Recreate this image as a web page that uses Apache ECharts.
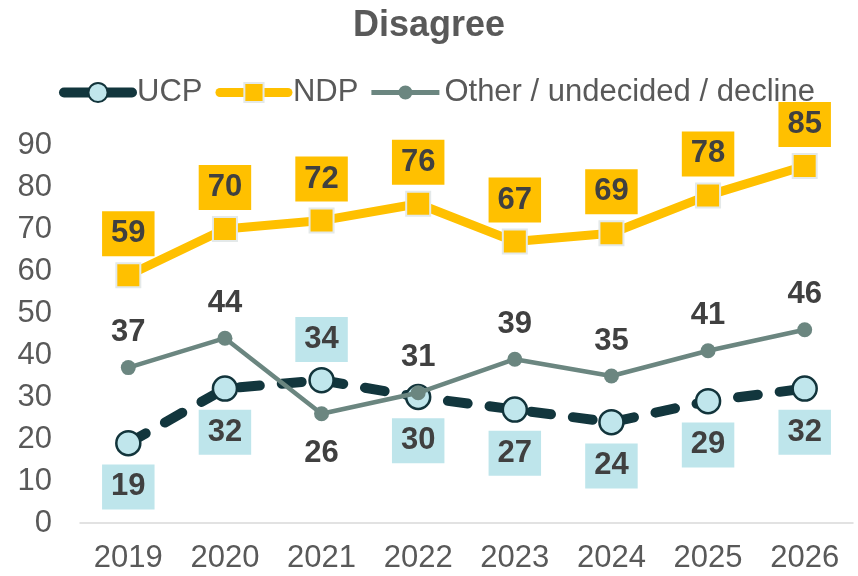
<!DOCTYPE html>
<html>
<head>
<meta charset="utf-8">
<script src="https://cdn.jsdelivr.net/npm/echarts@6/dist/echarts.min.js"></script>
<style>html,body{margin:0;padding:0;background:#fff}#c{width:858px;height:576px}</style>
</head>
<body>
<div id="c"></div>
<script>
const years = ['2019','2020','2021','2022','2023','2024','2025','2026'];
const ucp = [19, 32, 34, 30, 27, 24, 29, 32];
const ndp = [59, 70, 72, 76, 67, 69, 78, 85];
const other = [37, 44, 26, 31, 39, 35, 41, 46];
const yTicks = [0, 10, 20, 30, 40, 50, 60, 70, 80, 90];

const FONT = '"Liberation Sans", Arial, sans-serif';
const labelBase = {
  show: true, fontFamily: FONT, fontSize: 31, fontWeight: 'bold',
  color: '#404040', lineHeight: 31
};
// label placement per point (styling, not data)
const ucpAbove = new Set([2]);
const otherBelow = new Set([2]);

const otherIcon = 'path://M0,9.5 L68,9.5 L68,14.5 L0,14.5 Z M27,12 A7,7 0 1,1 41,12 A7,7 0 1,1 27,12 Z';

const chart = echarts.init(document.getElementById('c'), null, {renderer: 'canvas'});
chart.setOption({
  backgroundColor: '#fff',
  animation: false,
  title: {
    text: 'Disagree', left: 'center', top: 3,
    textStyle: {fontFamily: FONT, fontSize: 36, fontWeight: 'bold', color: '#595959'}
  },
  legend: {
    left: 54, top: 72, itemGap: 13, itemWidth: 68, itemHeight: 24,
    textStyle: {fontFamily: FONT, fontSize: 31, color: '#595959'},
    data: [
      {name: 'UCP', lineStyle: {type: 'solid', width: 10, cap: 'round'}},
      {name: 'NDP', lineStyle: {width: 9, cap: 'round'}},
      {name: 'Other / undecided / decline', icon: otherIcon}
    ]
  },
  grid: {left: 80, right: 5, top: 145, bottom: 53},
  xAxis: {
    type: 'category', data: years, boundaryGap: true,
    axisLine: {lineStyle: {color: '#D9D9D9', width: 1.5}},
    axisTick: {show: false},
    axisLabel: {fontFamily: FONT, fontSize: 31, color: '#595959', margin: 20}
  },
  yAxis: {
    type: 'value', min: yTicks[0], max: yTicks[yTicks.length - 1], interval: 10,
    axisLine: {show: false}, axisTick: {show: false}, splitLine: {show: false},
    axisLabel: {fontFamily: FONT, fontSize: 31, color: '#595959', margin: 28}
  },
  series: [
    {
      name: 'UCP', type: 'line',
      data: ucp.map((v, i) => ({
        value: v,
        label: {position: ucpAbove.has(i) ? 'top' : 'bottom', distance: ucpAbove.has(i) ? 5 : 8}
      })),
      symbol: 'circle', symbolSize: 24,
      itemStyle: {color: '#C0E6EC', borderColor: '#12343B', borderWidth: 2.5},
      lineStyle: {color: '#12363D', width: 10, type: [20, 22], cap: 'round'},
      label: Object.assign({}, labelBase, {backgroundColor: '#BEE5EB', padding: [7, 9, 7, 9]}),
      z: 2
    },
    {
      name: 'NDP', type: 'line',
      data: ndp,
      symbol: 'rect', symbolSize: 24,
      itemStyle: {color: '#FFC000', borderColor: '#E4E9E9', borderWidth: 2},
      lineStyle: {color: '#FFC000', width: 9},
      label: Object.assign({}, labelBase, {position: 'top', distance: 6, backgroundColor: '#FFC000', padding: [7, 9, 7, 9]}),
      z: 3
    },
    {
      name: 'Other / undecided / decline', type: 'line',
      data: other.map((v, i) => ({
        value: v,
        label: {position: otherBelow.has(i) ? 'bottom' : 'top', distance: otherBelow.has(i) ? 17 : 12}
      })),
      symbol: 'circle', symbolSize: 15,
      itemStyle: {color: '#6B8680', borderWidth: 0},
      lineStyle: {color: '#6B8680', width: 4.5},
      label: Object.assign({}, labelBase),
      z: 4
    }
  ]
});
</script>
</body>
</html>
